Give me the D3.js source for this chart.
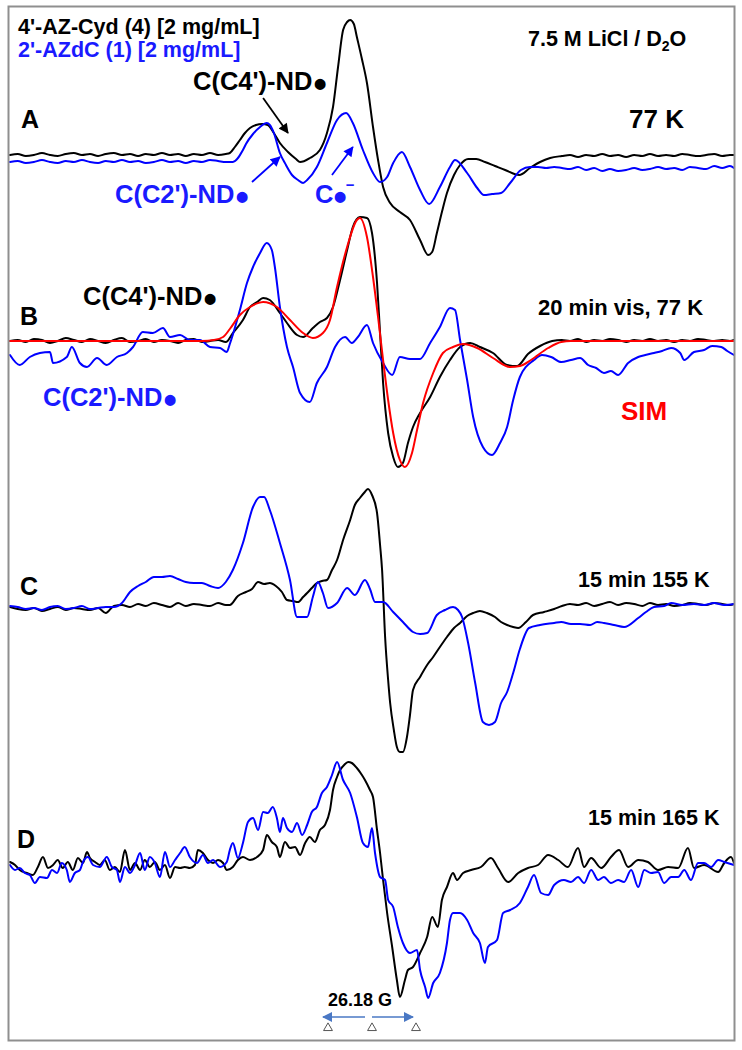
<!DOCTYPE html>
<html><head><meta charset="utf-8">
<script src="https://cdn.jsdelivr.net/npm/d3@7"></script>
<style>body{margin:0;background:#fff}svg{display:block}</style>
</head><body><svg id="chart" width="742" height="1050"></svg>
<script>
// ---------- DATA (field offset in G, intensity in arbitrary units) ----------
const fieldLeft = [-107.7,-105.4,-103.0,-100.6,-98.2,-95.8,-93.5,-91.1,-88.7,-86.3,-83.9,-81.5,-79.2,-76.8,-74.4,-72.0,-69.6,-67.3,-64.9,-62.5,-60.1,-57.7,-55.4,-53.0,-50.6,-48.2,-45.8,-43.5];
const fieldRight = [56.5,58.9,61.3,63.7,66.1,68.5,70.8,73.2,75.6,78.0,80.4,82.7,85.1,87.5,89.9,92.3,94.6,97.0,99.4,101.8,104.2,106.5,107.7];

// Panel A (77 K)
const aBlackLeft = [1,2,0,1,3,1,0,2,3,1,2,0,2,3,1,2,0,2,1,3,1,2,0,2,1,3,1,2];
const aBlackPeaks = [[-42.3,3],[-40.8,9],[-39.3,16],[-37.8,23],[-36.3,28],[-34.5,31],[-32.7,32],[-31.0,31],[-29.2,23],[-27.4,13],[-25.0,4],[-22.6,-3],[-21.4,-6],[-18.5,-2],[-15.5,6],[-13.4,23],[-11.6,49],[-10.1,89],[-8.6,126],[-7.4,134],[-6.5,136],[-5.4,132],[-4.5,119],[-3.0,97],[-1.5,73],[0.3,29],[1.8,-4],[3.3,-31],[5.4,-47],[8.3,-56],[11.3,-64],[14.3,-84],[16.7,-99],[17.9,-96],[19.3,-77],[20.8,-56],[22.3,-37],[24.4,-19],[26.2,-9],[28.6,-3],[31.0,-3],[33.6,-6],[36.6,-10],[39.6,-14],[43.8,-19],[47.0,-12],[50.0,-6],[53.0,-2]];
const aBlackRight = [0,1,-1,1,0,2,0,1,-1,1,0,2,0,1,0,2,1,0,1,2,0,1,1];
const aBlueLeft = [-6,-5,-7,-6,-4,-6,-7,-5,-6,-4,-6,-7,-5,-6,-4,-6,-5,-7,-6,-4,-6,-5,-7,-5,-6,-4,-5,-6];
const aBluePeaks = [[-41.4,-6],[-38.4,6],[-37.5,12],[-35.4,22],[-33.3,29],[-31.3,33],[-30.4,31],[-29.2,23],[-27.4,3],[-25.6,-9],[-23.8,-19],[-22.0,-24],[-20.5,-27],[-19.3,-24],[-16.4,-11],[-13.4,13],[-10.4,36],[-7.7,43],[-5.7,33],[-2.7,6],[0.3,-17],[2.4,-26],[4.5,-21],[6.3,-7],[8.9,4],[11.3,-11],[14.3,-34],[17.0,-48],[20.2,-31],[23.2,-11],[24.7,-4],[28.3,-17],[31.3,-32],[33.3,-39],[35.7,-38],[38.4,-37],[41.1,-27],[44.3,-14],[47.0,-11],[49.4,-11],[51.8,-12],[54.2,-11]];
const aBlueRight = [-12,-13,-11,-14,-12,-15,-13,-15,-14,-12,-14,-13,-11,-13,-12,-14,-11,-12,-13,-10,-12,-10,-12];

// Panel B (20 min vis, 77 K)
const bBlackLeft = [0,1,-1,2,1,-2,0,3,1,-1,2,0,-2,1,3,-1,0,2,-1,1,0,-2,1,2,-1,0,1,-1];
const bBlackPeaks = [[-41.4,8],[-38.4,21],[-36.3,34],[-34.2,39],[-32.4,43],[-30.4,41],[-27.4,28],[-25.3,18],[-22.3,6],[-20.5,4],[-17.6,13],[-15.5,19],[-13.4,23],[-11.6,34],[-9.5,61],[-7.4,91],[-5.7,114],[-3.6,124],[-1.5,123],[0,108],[1.5,58],[2.4,8],[3.3,-42],[4.8,-92],[6.3,-116],[7.7,-126],[9.2,-122],[10.7,-102],[12.2,-86],[14.3,-72],[17.3,-56],[20.2,-36],[23.2,-19],[26.2,-6],[29.2,-2],[32.1,-6],[36.0,-12],[40.2,-24],[43.2,-25],[46.4,-13],[50.0,-5],[53.6,0]];
const bBlackRight = [1,0,2,-1,1,0,2,1,-1,1,0,2,0,1,-1,1,0,2,1,0,1,0,1];
const bBlue = [[-107.7,-14],[-104.8,-24],[-101.8,-16],[-98.8,-12],[-95.8,-11],[-94.9,-22],[-90.8,-16],[-89.3,-6],[-86.9,-22],[-84.8,-26],[-81.8,-17],[-78.9,-24],[-75.9,-16],[-72.9,-12],[-71.1,-6],[-68.2,9],[-65.2,8],[-62.2,13],[-60.1,4],[-57.1,6],[-54.2,1],[-51.2,1],[-48.2,-6],[-45.2,-7],[-43.2,-11],[-42.3,-3],[-39.3,31],[-37.2,58],[-35.4,74],[-33.3,88],[-31.3,98],[-29.8,91],[-28.9,74],[-27.4,34],[-25.3,-6],[-23.5,-26],[-21.4,-52],[-18.5,-61],[-16.4,-42],[-13.4,-26],[-11.0,-6],[-8.0,4],[-6.0,-2],[-4.2,4],[-1.5,16],[0.3,-2],[3.3,-22],[6.0,-34],[8.3,-16],[11.3,-18],[14.3,-18],[17.3,-2],[20.2,14],[23.2,33],[24.7,31],[26.2,1],[28.3,-39],[30.1,-76],[33.0,-106],[35.7,-114],[38.1,-102],[40.2,-86],[42.0,-59],[44.0,-36],[48.2,-19],[50.6,-14],[53.3,-16],[56.3,-21],[59.2,-19],[61.9,-17],[64.3,-24],[66.7,-27],[69.0,-32],[71.1,-30],[73.2,-34],[76.2,-22],[79.2,-16],[81.3,-14],[83.9,-12],[86.3,-10],[89.0,-7],[91.7,-12],[92.9,-19],[95.8,-11],[98.8,-9],[101.2,-5],[103.9,-6],[105.7,-10],[107.7,-14]];
const bSim = [[-107.7,0],[-50.6,0],[-47.0,1],[-44.3,4],[-42.3,12],[-39.3,26],[-36.3,34],[-32.4,39],[-28.3,34],[-24.4,21],[-20.5,8],[-17.6,3],[-14.6,8],[-12.5,21],[-10.4,54],[-7.4,94],[-4.5,121],[-3.6,123],[-1.5,104],[0.3,64],[1.8,24],[3.3,-19],[4.8,-59],[6.3,-92],[8.3,-119],[9.8,-126],[11.9,-112],[13.4,-89],[15.2,-62],[18.2,-32],[21.1,-12],[24.1,-6],[27.1,-3],[31.3,-7],[36.0,-17],[41.1,-26],[44.0,-25],[47.3,-19],[52.4,-7],[56.3,-1],[59.2,0],[107.7,0]];

// Panel C (15 min 155 K)
const cBlackLeft = [0,-2,-3,-1,-4,-2,0,-3,-1,-2,-3,-1,-6,1,2,0,3,1,4,2,0,4,1,3,2,1,4,2];
const cBlackPeaks = [[-42.3,2],[-39.9,11],[-37.5,15],[-35.7,18],[-33.9,25],[-32.1,23],[-30.4,24],[-28.6,21],[-26.8,15],[-25.3,7],[-23.5,6],[-22.0,5],[-20.5,10],[-19.3,14],[-17.9,19],[-16.4,24],[-14.9,26],[-13.4,27],[-11.9,37],[-10.4,47],[-8.6,67],[-6.5,87],[-5.1,102],[-3.6,109],[-2.4,114],[-1.2,118],[0,112],[1.5,94],[2.4,62],[3.0,37],[3.9,-30],[4.8,-73],[5.4,-96],[6.5,-123],[7.4,-140],[8.3,-145],[9.2,-145],[10.4,-130],[11.3,-108],[12.2,-83],[14.3,-70],[16.4,-58],[18.2,-50],[20.2,-40],[22.3,-30],[24.4,-21],[26.2,-16],[28.3,-9],[30.1,-6],[32.1,-4],[34.2,-6],[36.6,-10],[38.4,-15],[40.2,-18],[42.0,-20],[43.5,-21],[45.8,-15],[47.9,-8],[51.2,-5],[54.2,-2]];
const cBlackRight = [1,3,2,4,1,3,5,2,4,3,1,4,2,3,1,2,4,3,2,4,3,2,3];
const cBlueLeft = [1,0,-2,-1,-3,0,1,-2,-1,1,-2,-1,0,0,4,15,21,25,30,30,31,28,25,24,24,21,19,25];
const cBluePeaks = [[-41.4,37],[-38.4,64],[-35.4,100],[-33.3,110],[-32.1,110],[-30.4,97],[-27.4,64],[-24.4,27],[-22.3,-10],[-19.3,-10],[-17.6,10],[-16.1,25],[-14.6,14],[-13.1,-1],[-10.4,4],[-7.4,19],[-5.1,12],[-2.1,27],[-0.6,18],[0.9,5],[3.3,5],[6.3,-5],[9.2,-15],[12.2,-25],[14.3,-27],[16.4,-26],[19.3,-8],[21.7,-3],[24.1,0],[25.6,-3],[26.8,-10],[28.6,-36],[30.7,-76],[33.0,-115],[34.8,-118],[36.6,-115],[38.4,-96],[40.2,-85],[42.0,-66],[44.0,-42],[46.7,-21],[50.0,-18],[54.2,-16],[56.3,-15],[59.2,-17],[61.9,-17],[64.9,-18],[67.0,-15],[69.0,-16],[72.0,-18],[75.0,-20],[79.2,-11],[81.5,-5],[83.9,0],[86.9,1],[89.0,4],[92.3,2],[95.8,3],[98.8,2],[101.8,4],[104.8,2],[107.7,3]];

// Panel D (15 min 165 K)
const dBlack = [[-107.7,2],[-106.2,-1],[-104.8,-6],[-102.7,-9],[-100.9,-11],[-99.4,-3],[-97.9,7],[-96.4,-4],[-94.9,-1],[-93.5,4],[-92.0,-4],[-90.5,2],[-89.0,-6],[-87.5,6],[-86.0,1],[-84.8,12],[-83.9,6],[-82.4,2],[-81.0,-1],[-79.5,4],[-78.0,-6],[-76.5,-3],[-75.0,-8],[-73.5,14],[-72.0,-6],[-70.5,1],[-69.0,-6],[-67.6,4],[-66.1,-3],[-64.6,2],[-63.1,-6],[-61.6,-1],[-60.1,-14],[-58.6,-3],[-57.1,-4],[-55.7,-3],[-54.2,-4],[-52.7,-1],[-51.8,14],[-50.3,11],[-48.8,4],[-47.3,1],[-45.8,4],[-44.3,1],[-43.2,-6],[-41.4,-3],[-39.9,4],[-38.4,7],[-36.3,4],[-34.2,7],[-32.4,14],[-31.3,29],[-29.8,22],[-28.3,17],[-27.4,7],[-25.9,22],[-24.4,16],[-22.9,17],[-21.4,9],[-19.9,21],[-18.5,27],[-17.0,22],[-15.5,34],[-14.0,39],[-12.5,54],[-11.6,74],[-10.4,87],[-9.5,94],[-8.3,99],[-7.1,102],[-6.0,101],[-4.5,96],[-3.0,89],[-2.1,84],[-0.6,74],[0.3,67],[1.5,34],[2.4,11],[3.3,-16],[4.5,-49],[6.0,-83],[7.4,-116],[8.3,-133],[9.8,-116],[10.7,-106],[12.2,-103],[14.3,-89],[16.4,-73],[17.9,-53],[19.6,-63],[20.8,-36],[22.3,-23],[24.1,-9],[25.3,-16],[27.1,-9],[29.5,-6],[32.4,-3],[35.4,6],[37.5,-4],[40.5,-18],[43.5,-9],[46.4,-4],[49.4,-1],[52.4,9],[55.4,4],[58.3,-3],[61.3,16],[63.1,-3],[65.2,6],[68.2,-4],[71.1,7],[73.5,14],[76.2,-3],[79.2,4],[82.1,2],[85.1,-6],[88.1,-3],[91.1,-4],[94.0,16],[95.8,-4],[98.8,-1],[103.0,-8],[104.8,1],[106.8,7],[107.7,1]];
const dBlue = [[-107.7,-1],[-106.2,-6],[-104.8,-4],[-103.3,-9],[-101.8,-11],[-100.3,-19],[-98.8,-13],[-96.7,-14],[-95.2,-6],[-93.7,-9],[-92.3,1],[-90.8,-6],[-89.9,-18],[-88.4,-9],[-86.9,-6],[-86.0,2],[-84.5,7],[-83.0,-1],[-81.0,-3],[-78.9,7],[-77.4,-3],[-75.9,-6],[-75.0,-18],[-73.5,-3],[-72.0,-9],[-70.5,-1],[-69.0,11],[-67.6,-6],[-66.1,7],[-64.6,1],[-63.1,-13],[-61.6,12],[-60.1,-3],[-58.6,4],[-57.1,11],[-55.7,17],[-54.2,7],[-52.1,1],[-50.3,9],[-48.8,1],[-47.3,4],[-45.2,-3],[-43.2,2],[-42.3,14],[-41.4,21],[-39.9,6],[-38.4,21],[-36.9,42],[-35.4,46],[-33.9,34],[-32.4,52],[-31.0,51],[-29.5,57],[-28.3,46],[-27.4,32],[-26.5,46],[-25.3,36],[-23.8,32],[-22.3,41],[-20.8,29],[-19.3,39],[-17.9,52],[-16.4,57],[-14.9,71],[-13.4,77],[-11.9,89],[-10.4,102],[-8.6,84],[-6.5,71],[-4.5,47],[-2.7,21],[-1.2,17],[0,36],[0.9,11],[2.4,-13],[3.9,-16],[4.8,-36],[6.3,-43],[7.7,-63],[9.2,-79],[11.3,-89],[13.4,-86],[14.3,-106],[15.8,-123],[16.7,-134],[18.2,-119],[20.2,-109],[22.3,-79],[23.2,-56],[24.1,-49],[26.2,-49],[28.3,-56],[30.1,-69],[32.1,-79],[33.6,-99],[34.5,-83],[37.2,-76],[39.0,-49],[41.1,-46],[44.0,-39],[46.4,-23],[48.2,-11],[50.3,-29],[52.4,-31],[54.2,-21],[57.1,-16],[59.2,-18],[61.3,-13],[63.1,-19],[65.2,-6],[67.3,-16],[69.0,-13],[71.1,-19],[73.2,-16],[75.0,-18],[77.1,-6],[79.2,-23],[81.0,-6],[83.0,-9],[85.1,-8],[86.9,-19],[89.0,-13],[91.1,-13],[92.9,-6],[94.9,-16],[97.0,1],[98.8,1],[100.9,-3],[103.0,4],[104.8,2],[107.7,-1]];

// Field marker (G)
const markerFields = [-13.09, 0, 13.09];
const markerLabel = "26.18 G";

// ---------- DRAWING ----------
const BLACK = "#000000", BLUE = "#0000ff", RED = "#ff0000", TXTBLUE = "#1a1aff";
const FONT = "'Liberation Sans', Arial, Helvetica, sans-serif";
const svg = d3.select("#chart");
svg.append("rect").attr("width", 742).attr("height", 1050).attr("fill", "#fff");

const x = d3.scaleLinear().domain([-107.7, 107.7]).range([10, 734]);
const panelBase = {A: 156, B: 341, C: 607, D: 864};
const yFor = p => d3.scaleLinear().domain([0, 100]).range([panelBase[p], panelBase[p] - 100]);

function zip(fields, vals) { return fields.map((f, i) => [f, vals[i]]); }
function build(left, peaks, right) {
  return [].concat(left ? zip(fieldLeft, left) : [], peaks, right ? zip(fieldRight, right) : []);
}

const series = [
  {p: "A", c: BLACK, d: build(aBlackLeft, aBlackPeaks, aBlackRight)},
  {p: "A", c: BLUE, d: build(aBlueLeft, aBluePeaks, aBlueRight)},
  {p: "B", c: BLACK, d: build(bBlackLeft, bBlackPeaks, bBlackRight)},
  {p: "B", c: BLUE, d: bBlue},
  {p: "B", c: RED, d: bSim},
  {p: "C", c: BLACK, d: build(cBlackLeft, cBlackPeaks, cBlackRight)},
  {p: "C", c: BLUE, d: build(cBlueLeft, cBluePeaks, null)},
  {p: "D", c: BLACK, d: dBlack},
  {p: "D", c: BLUE, d: dBlue}
];

const gTraces = svg.append("g");
series.forEach(s => {
  const y = yFor(s.p);
  const line = d3.line().x(d => x(d[0])).y(d => y(d[1])).curve(d3.curveMonotoneX);
  gTraces.append("path").datum(s.d).attr("d", line)
    .attr("fill", "none").attr("stroke", s.c).attr("stroke-width", 2)
    .attr("stroke-linejoin", "round").attr("stroke-linecap", "round");
});

// arrow markers
const defs = svg.append("defs");
function mk(id, color, w, h) {
  defs.append("marker").attr("id", id).attr("viewBox", "0 0 10 10")
    .attr("refX", 9).attr("refY", 5).attr("markerWidth", w).attr("markerHeight", h)
    .attr("markerUnits", "userSpaceOnUse").attr("orient", "auto")
    .append("path").attr("d", "M0,0L10,5L0,10z").attr("fill", color);
}
mk("ahBlack", BLACK, 11, 10);
mk("ahBlue", BLUE, 11, 10);
mk("ahScale", "#4a78c4", 12, 10);

// annotation arrows in panel-A data space
const yA = yFor("A");
const annArrows = [
  {from: [-32.4, 58], to: [-25.0, 23], c: BLACK, m: "ahBlack"},
  {from: [-35.7, -26], to: [-27.4, -1], c: BLUE, m: "ahBlue"},
  {from: [-11.9, -19], to: [-5.7, 9], c: BLUE, m: "ahBlue"}
];
annArrows.forEach(a => {
  svg.append("line").attr("x1", x(a.from[0])).attr("y1", yA(a.from[1]))
    .attr("x2", x(a.to[0])).attr("y2", yA(a.to[1]))
    .attr("stroke", a.c).attr("stroke-width", 1.8).attr("marker-end", `url(#${a.m})`);
});

// text labels
function label(t, px, py, size, fill, anchor) {
  return svg.append("text").attr("x", px).attr("y", py).attr("font-family", FONT)
    .attr("font-weight", "bold").attr("font-size", size).attr("fill", fill)
    .attr("text-anchor", anchor || "start").text(t);
}
function radical(t, px, py, size, fill) {
  const el = label(t, px, py, size, fill);
  el.append("tspan").attr("dy", 7).attr("dx", 1).attr("font-size", 38).text("\u2022");
  return el;
}
label("4'-AZ-Cyd (4) [2 mg/mL]", 18, 34, 21.5, BLACK);
label("2'-AZdC (1) [2 mg/mL]", 18, 57, 21.5, TXTBLUE);
const lic = label("7.5 M LiCl / D", 528, 46, 21.5, BLACK);
lic.append("tspan").attr("font-size", 14).attr("dy", 5).text("2");
lic.append("tspan").attr("dy", -5).text("O");
label("77 K", 629, 128, 26, BLACK);
label("A", 21, 128, 25, BLACK);
radical("C(C4')-ND", 193, 90, 25.5, BLACK);
radical("C(C2')-ND", 115, 203, 25.5, TXTBLUE);
const cm = label("C", 315, 203, 25.5, TXTBLUE);
cm.append("tspan").attr("dy", 7).attr("font-size", 38).text("\u2022");
cm.append("tspan").attr("dy", -20).attr("dx", -1).attr("font-size", 15).text("\u2212");

label("B", 20, 325, 25, BLACK);
radical("C(C4')-ND", 83, 305, 25.5, BLACK);
radical("C(C2')-ND", 43, 406, 25.5, TXTBLUE);
label("20 min vis, 77 K", 538, 315, 22, BLACK);
label("SIM", 621, 420, 26, RED);

label("C", 20, 595, 25, BLACK);
label("15 min 155 K", 578, 587, 21.5, BLACK);

label("D", 17, 848, 25, BLACK);
label("15 min 165 K", 588, 825, 21.5, BLACK);

// field marker
label(markerLabel, x(markerFields[1]) - 12, 1006, 18, BLACK, "middle");
const arrowY = 1017, triY = 1028;
svg.append("line").attr("x1", x(markerFields[1]) - 7).attr("x2", x(markerFields[0]) - 5)
  .attr("y1", arrowY).attr("y2", arrowY).attr("stroke", "#4a78c4").attr("stroke-width", 1.5)
  .attr("marker-end", "url(#ahScale)");
svg.append("line").attr("x1", x(markerFields[1])).attr("x2", x(markerFields[2]) - 3)
  .attr("y1", arrowY).attr("y2", arrowY).attr("stroke", "#4a78c4").attr("stroke-width", 1.5)
  .attr("marker-end", "url(#ahScale)");
svg.selectAll("path.tri").data(markerFields).enter().append("path").attr("class", "tri")
  .attr("d", d3.symbol().type(d3.symbolTriangle).size(34))
  .attr("transform", d => `translate(${x(d)},${triY})`)
  .attr("fill", "#fff").attr("stroke", "#555").attr("stroke-width", 1);

// frame
svg.append("rect").attr("x", 8.5).attr("y", 6.5).attr("width", 726).attr("height", 1034)
  .attr("fill", "none").attr("stroke", "#8f8f8f").attr("stroke-width", 2);
</script></body></html>
